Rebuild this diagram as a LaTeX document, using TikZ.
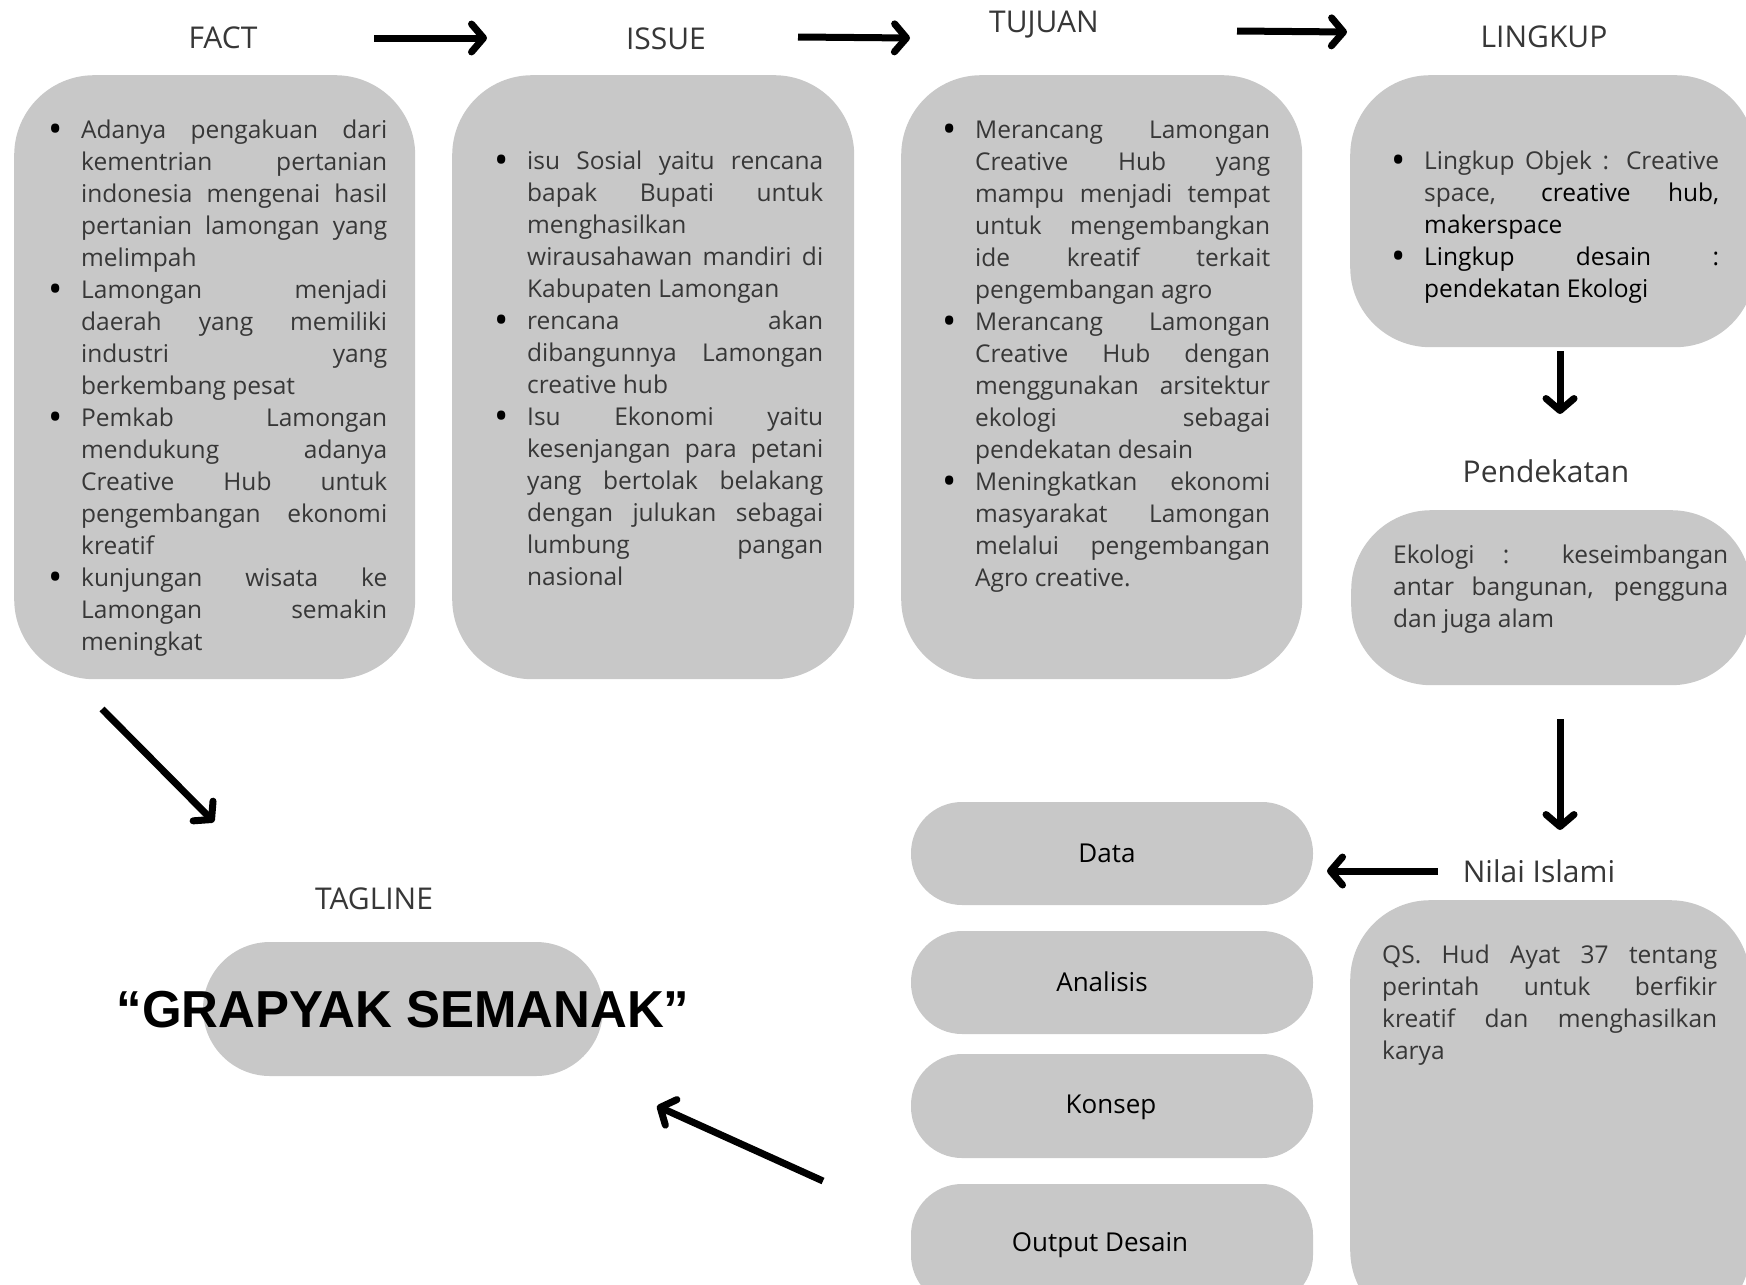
\documentclass[tikz,border=0pt]{standalone}
\usepackage{fontspec}
\setmainfont{Open Sans}
\newfontfamily\tagfont{Liberation Sans}[FakeStretch=0.98]
\usetikzlibrary{arrows.meta}
\definecolor{boxgray}{RGB}{200,200,200}
\definecolor{lighttext}{RGB}{55,55,55}
\newcommand{\bigbullet}{\hspace*{-7.2pt}\raisebox{-4.2pt}{\color{black}\fontsize{38}{32}\selectfont\textbullet}\hfill}
\newenvironment{bul}{\begin{list}{\bigbullet}{%
  \setlength{\leftmargin}{26pt}\setlength{\labelwidth}{26pt}\setlength{\labelsep}{0pt}%
  \setlength{\itemsep}{0pt}\setlength{\parsep}{0pt}\setlength{\topsep}{0pt}%
  \setlength{\partopsep}{0pt}\setlength{\itemindent}{0pt}}}{\end{list}}
\newcommand{\dk}[1]{{\color{black}#1}}
\newcommand{\bodysetup}{\fontsize{24.5}{32}\selectfont\tolerance=10000\pretolerance=-1\hyphenpenalty=10000\hbadness=10000\parindent=0pt\parskip=0pt}
\tikzset{
  bigbox/.style={fill=boxgray, draw=none, rounded corners=80pt, inner sep=0pt, anchor=north west},
  pill/.style={fill=boxgray, draw=none, rounded corners=51pt, inner sep=0pt, anchor=center,
     minimum width=402pt, minimum height=103pt},
  pilllabel/.style={text=black, font=\fontsize{26}{30}\selectfont, inner sep=0pt, anchor=center},
  title/.style={text=lighttext, font=\fontsize{30}{36}\selectfont, inner sep=0pt, anchor=center},
  bodytext/.style={text=lighttext, inner sep=0pt, anchor=north west, align=justify,
     execute at begin node=\bodysetup},
  arr/.style={line width=7pt, line cap=butt, -{Straight Barb[round, length=12pt, width=28pt]}}
}
\begin{document}
\begin{tikzpicture}[x=1pt, y=-1pt]
\useasboundingbox (0,0) rectangle (1746,1285);
\fill[white] (0,0) rectangle (1746,1285);

% big boxes
\node[bigbox, minimum width=401pt, minimum height=604pt] (factbox) at (14,75) {};
\node[bigbox, minimum width=402pt, minimum height=604pt] (issuebox) at (452,75) {};
\node[bigbox, minimum width=401pt, minimum height=604pt] (tujuanbox) at (901,75) {};
\node[bigbox, minimum width=405pt, minimum height=272pt] (lingkupbox) at (1350,75) {};
\node[bigbox, minimum width=400pt, minimum height=175pt] (pendbox) at (1351,510) {};
\node[bigbox, minimum width=400pt, minimum height=430pt] (nilaibox) at (1350,900) {};

% titles
\node[title] (fact) at (223,38) {FACT};
\node[title] (issue) at (666,39) {ISSUE};
\node[title] (tujuan) at (1044,25) {TUJUAN};
\node[title] (lingkup) at (1544,37) {LINGKUP};
\node[title] (pendekatan) at (1546,471) {Pendekatan};
\node[title] (nilai) at (1539,871) {Nilai Islami};
\node[title] (tagline) at (374,899) {TAGLINE};

% texts
\node[bodytext, text width=332pt] (facttext) at (55,106) {\begin{bul}
\item \strut Adanya pengakuan dari\linebreak kementrian pertanian\linebreak indonesia mengenai hasil\linebreak pertanian lamongan yang\linebreak melimpah
\item Lamongan menjadi\linebreak daerah yang memiliki\linebreak industri yang\linebreak berkembang pesat
\item Pemkab Lamongan\linebreak mendukung adanya\linebreak Creative Hub untuk\linebreak pengembangan ekonomi\linebreak kreatif
\item kunjungan wisata ke\linebreak Lamongan semakin\linebreak meningkat
\end{bul}};

\node[bodytext, text width=322pt] (issuetext) at (501,137.4) {\begin{bul}
\item \strut isu Sosial yaitu rencana\linebreak bapak Bupati untuk\linebreak menghasilkan\linebreak wirausahawan mandiri di\linebreak Kabupaten Lamongan
\item rencana akan\linebreak dibangunnya Lamongan\linebreak creative hub
\item Isu Ekonomi yaitu\linebreak kesenjangan para petani\linebreak yang bertolak belakang\linebreak dengan julukan sebagai\linebreak lumbung pangan\linebreak nasional
\end{bul}};

\node[bodytext, text width=321pt] (tujuantext) at (949,106) {\begin{bul}
\item \strut Merancang Lamongan\linebreak Creative Hub yang\linebreak mampu menjadi tempat\linebreak untuk mengembangkan\linebreak ide kreatif terkait\linebreak pengembangan agro
\item Merancang Lamongan\linebreak Creative Hub dengan\linebreak menggunakan arsitektur\linebreak ekologi sebagai\linebreak pendekatan desain
\item Meningkatkan ekonomi\linebreak masyarakat Lamongan\linebreak melalui pengembangan\linebreak Agro creative.
\end{bul}};

\node[bodytext, text width=321pt] (lingkuptext) at (1398,137.4) {\begin{bul}
\item \strut Lingkup Objek : Creative\linebreak space, \dk{creative hub,}\linebreak \dk{makerspace}
\item \dk{Lingkup desain :}\linebreak \dk{pendekatan Ekologi}
\end{bul}};

\node[bodytext, text width=335pt] (pendtext) at (1393,540.6) {\strut Ekologi : keseimbangan\linebreak antar bangunan, pengguna\linebreak dan juga alam};

\node[bodytext, text width=335pt] (nilaitext) at (1382,940.4) {\strut QS. Hud Ayat 37 tentang\linebreak perintah untuk berfikir\linebreak kreatif dan menghasilkan\linebreak karya};

% pills
\node[pill] (data) at (1112,853.5) {};
\node[pill] (analisis) at (1112,982.5) {};
\node[pill, minimum height=104pt] (konsep) at (1112,1106) {};
\node[pill, minimum height=122pt] (output) at (1112,1245) {};
\node[pilllabel] (datal) at (1107,853) {Data};
\node[pilllabel] (analisisl) at (1102,982) {Analisis};
\node[pilllabel, text depth=0pt] (konsepl) at (1111,1104) {Konsep};
\node[pilllabel] (outputl) at (1100,1245) {Output Desain};

% tagline
\node[fill=boxgray, draw=none, rounded corners=67pt, inner sep=0pt, minimum width=400pt, minimum height=134pt] (tagpill) at (403,1009) {};
\node[inner sep=0pt, text=black] (tagtext) at (403,1010) {\tagfont\bfseries\fontsize{52}{60}\selectfont “GRAPYAK SEMANAK”};

% arrows
\coordinate (a1s) at (374,38);   \coordinate (a1e) at (487,38);
\coordinate (a2s) at (798,37);   \coordinate (a2e) at (910,38);
\coordinate (a3s) at (1237,31);  \coordinate (a3e) at (1347,32);
\coordinate (a4s) at (1560,351); \coordinate (a4e) at (1560,414);
\coordinate (a5s) at (1560,719); \coordinate (a5e) at (1560,830);
\coordinate (a6s) at (1438,871); \coordinate (a6e) at (1327,871);
\coordinate (a7s) at (102,709);  \coordinate (a7e) at (214,822);
\coordinate (a8s) at (823,1181); \coordinate (a8e) at (657,1106);
\draw[arr] (a1s) -- (a1e);
\draw[arr] (a2s) -- (a2e);
\draw[arr] (a3s) -- (a3e);
\draw[arr] (a4s) -- (a4e);
\draw[arr] (a5s) -- (a5e);
\draw[arr] (a6s) -- (a6e);
\draw[arr] (a7s) -- (a7e);
\draw[arr] (a8s) -- (a8e);
\end{tikzpicture}
\end{document}
